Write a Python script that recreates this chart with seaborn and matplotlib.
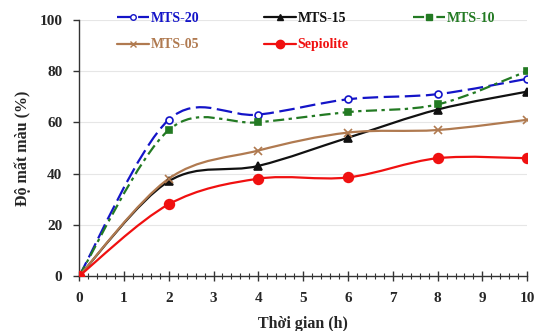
import numpy as np
import pandas as pd
import matplotlib
matplotlib.use("Agg")
import matplotlib.pyplot as plt
import seaborn as sns
from matplotlib.path import Path
from matplotlib.patches import PathPatch
from matplotlib.lines import Line2D
from matplotlib.ticker import MultipleLocator

# Datos
thoi_gian = [0, 2, 4, 6, 8, 10]
mts_20 = [0, 61, 63, 69, 71, 77]
mts_15 = [0, 37, 43, 54, 65, 72]
mts_10 = [0, 57, 60, 64, 67, 80]
mts_05 = [0, 38, 49, 56, 57, 61]
sepiolite = [0, 28, 38, 38.5, 46, 46]

series = ["MTS-20", "MTS-15", "MTS-10", "MTS-05", "Sepiolite"]
valores = [mts_20, mts_15, mts_10, mts_05, sepiolite]

estilos = {
    "MTS-20": dict(color="#1414C8", ls=(0, (7, 2.5)), marker="o", mfc="white", ms=5),
    "MTS-15": dict(color="#111111", ls="-", marker="^", mfc="#111111", ms=6),
    "MTS-10": dict(color="#237A23", ls=(0, (5, 2, 1.5, 2)), marker="s", mfc="#237A23", ms=5),
    "MTS-05": dict(color="#B07A50", ls="-", marker="x", mfc="#B07A50", ms=6),
    "Sepiolite": dict(color="#F01010", ls="-", marker="o", mfc="#F01010", ms=7),
}

df = pd.DataFrame({"t": thoi_gian * len(series),
                   "valor": sum(valores, []),
                   "serie": np.repeat(series, len(thoi_gian))})


def curva_suave(x, y):
    # Curva tipo Excel: segmentos Bézier con tangentes Catmull-Rom
    p = np.column_stack([x, y]).astype(float)
    ext = np.vstack([p[0], p, p[-1]])
    verts = [p[0]]
    codes = [Path.MOVETO]
    for i in range(len(p) - 1):
        p0, p1, p2, p3 = ext[i], ext[i + 1], ext[i + 2], ext[i + 3]
        verts += [p1 + (p2 - p0) / 6, p2 - (p3 - p1) / 6, p2]
        codes += [Path.CURVE4] * 3
    return Path(verts, codes)


sns.set_theme(style="white")
plt.rcParams["font.family"] = ["Liberation Serif", "DejaVu Serif"]
plt.rcParams["font.weight"] = "bold"

fig = plt.figure(figsize=(5.38, 3.31), dpi=100)
ax = fig.add_axes([0.147, 0.166, 0.833, 0.774])

for nombre in series:
    e = estilos[nombre]
    sub = df[df["serie"] == nombre]
    ax.add_patch(PathPatch(curva_suave(sub["t"], sub["valor"]), fill=False,
                           edgecolor=e["color"], lw=1.6, linestyle=e["ls"], zorder=2))
    sns.lineplot(data=sub, x="t", y="valor", ax=ax, linestyle="", marker=e["marker"],
                 markersize=e["ms"], color=e["color"], markerfacecolor=e["mfc"],
                 markeredgecolor=e["color"], markeredgewidth=1.2, zorder=3,
                 legend=False)

ax.set_xlim(0, 10)
ax.set_ylim(0, 100)
ax.xaxis.set_major_locator(MultipleLocator(1))
ax.xaxis.set_minor_locator(MultipleLocator(0.2))
ax.yaxis.set_major_locator(MultipleLocator(20))
ax.grid(axis="y", color="#E6E6E6", lw=0.8)
ax.set_axisbelow(True)
for lado in ["top", "right"]:
    ax.spines[lado].set_visible(False)
for lado in ["left", "bottom"]:
    ax.spines[lado].set_color("#333333")
    ax.spines[lado].set_linewidth(1.0)
ax.tick_params(axis="x", which="major", direction="inout", length=7, width=1,
               color="#333333", labelsize=11, pad=8, bottom=True)
ax.tick_params(axis="x", which="minor", direction="inout", length=4, width=0.8,
               color="#333333", bottom=True)
ax.tick_params(axis="y", direction="out", length=4, width=1, color="#333333",
               labelsize=11, pad=8, left=True)
for lbl in ax.get_xticklabels() + ax.get_yticklabels():
    lbl.set_fontweight("bold")

ax.set_xlabel("Thời gian (h)", fontsize=11.5, fontweight="bold", labelpad=8,
              family=["Liberation Serif", "DejaVu Serif"])
ax.set_ylabel("Độ mất màu (%)", fontsize=11.5, fontweight="bold", labelpad=6,
              family=["Liberation Serif", "DejaVu Serif"])

# leyenda por filas: matplotlib llena por columnas, así que reordenamos
orden = ["MTS-20", "MTS-05", "MTS-15", "Sepiolite", "MTS-10"]
handles = []
for nombre in orden:
    e = estilos[nombre]
    handles.append(Line2D([], [], color=e["color"], ls=e["ls"], lw=1.6, marker=e["marker"],
                          markersize=e["ms"] - 1, markerfacecolor=e["mfc"],
                          markeredgecolor=e["color"]))
leg = ax.legend(handles, orden, ncol=3, loc="upper left", bbox_to_anchor=(0.085, 1.03),
                frameon=False, fontsize=10, handlelength=2.3, handletextpad=0.15,
                columnspacing=4.6, labelspacing=0.95, borderpad=0, borderaxespad=0)
for txt, nombre in zip(leg.get_texts(), orden):
    txt.set_color(estilos[nombre]["color"])
    txt.set_fontweight("bold")

fig.savefig("out.png", dpi=100)
